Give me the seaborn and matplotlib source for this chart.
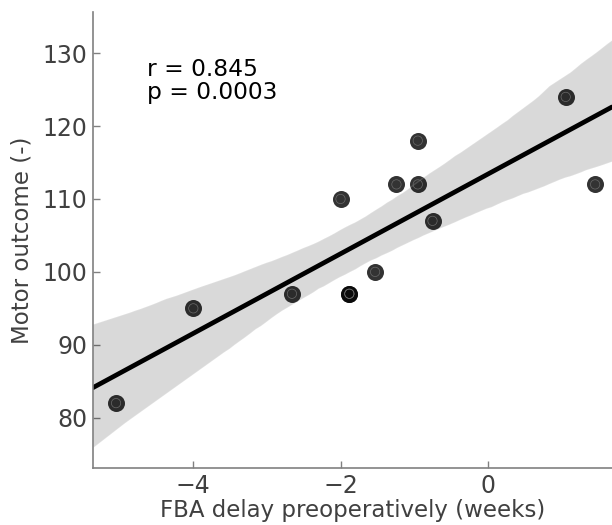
import numpy as np
import pandas as pd
import matplotlib
matplotlib.use("Agg")
import matplotlib.pyplot as plt
import seaborn as sns

# FBA delay (weeks) vs motor outcome
fba_delay = [-5.05, -4.0, -2.66, -1.88, -1.88, -2.0, -1.53, -1.24, -0.95, -0.95, -0.75, 1.06, 1.46]
motor_outcome = [82, 95, 97, 97, 97, 110, 100, 112, 118, 112, 107, 124, 112]
stats_text = "r = 0.845\np = 0.0003"

df = pd.DataFrame({"delay": fba_delay, "motor": motor_outcome})

sns.set_style("ticks")
plt.rcParams["font.family"] = ["DejaVu Sans"]
grey = "#808080"
text_grey = "#404040"

fig = plt.figure(figsize=(6.12, 5.25), dpi=100)
ax = fig.add_axes([0.1515, 0.108, 0.8485, 0.8685])
ax.set_xlim(-5.367, 1.689)
ax.set_ylim(73.06, 135.6)

sns.regplot(data=df, x="delay", y="motor", ax=ax, color="k", truncate=False, seed=0,
            scatter_kws={"s": 150, "alpha": 0.8, "linewidths": 0},
            line_kws={"lw": 3.4})
# faint inner ring on the markers
ax.scatter(df["delay"], df["motor"], s=45, facecolors="none", edgecolors="#6a6a6a",
           linewidths=0.5, zorder=4)

ax.set_xlim(-5.367, 1.689)
ax.set_ylim(73.06, 135.6)
ax.set_xticks([-4, -2, 0])
ax.set_yticks([80, 90, 100, 110, 120, 130])

sns.despine(ax=ax)
for side in ["left", "bottom"]:
    ax.spines[side].set_color(grey)
    ax.spines[side].set_linewidth(1.2)
ax.tick_params(direction="in", length=5, width=1, color=grey, labelcolor=text_grey,
               labelsize=17, pad=4)

ax.set_xlabel("FBA delay preoperatively (weeks)", fontsize=16.5, color=text_grey, labelpad=1)
ax.set_ylabel("Motor outcome (-)", fontsize=16.5, color=text_grey, labelpad=6)

ax.text(0.105, 0.9, stats_text, transform=ax.transAxes, fontsize=16.8, color="black",
        va="top", ha="left", linespacing=1.0)

fig.savefig("out.png", dpi=100)
